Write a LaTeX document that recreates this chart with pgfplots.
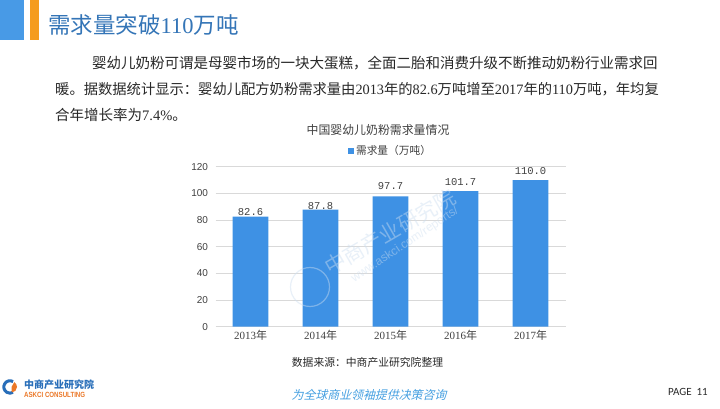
\documentclass[border=0pt]{standalone}
\usepackage{fontspec}
\usepackage{pgfplots}
\usepackage{pgfplotstable}
\pgfplotsset{compat=1.18}
\setmainfont{Liberation Serif}
\newfontfamily\cjk{Noto Sans CJK SC}
\newfontfamily\cjkit[FakeSlant=0.25]{Noto Sans CJK SC}
\newfontfamily\sansf{Liberation Sans}
\newfontfamily\monof{Liberation Mono}
\newfontfamily\carl{Carlito}
\definecolor{barblue}{RGB}{62,145,228}
\definecolor{titleblue}{RGB}{52,117,183}
\definecolor{blockblue}{RGB}{72,154,230}
\definecolor{blockorange}{RGB}{245,156,30}
\definecolor{gridgray}{RGB}{217,217,217}
\definecolor{textgray}{RGB}{64,64,64}
\definecolor{bodytext}{RGB}{40,40,40}
\definecolor{slogan}{RGB}{70,160,225}
\definecolor{logoblue}{RGB}{40,110,185}
\definecolor{logoorange}{RGB}{235,120,40}
\definecolor{wmark}{RGB}{205,222,240}

\pgfplotstableread{
x y ly lab
0 82.6 86.25 82.6
1 87.8 90.75 87.8
2 97.7 105.5 97.7
3 101.7 108.75 101.7
4 110.0 116.8 110.0
}\demand

\begin{document}
\begin{tikzpicture}
\fill[white] (0pt,0pt) rectangle (720pt,409pt);
\useasboundingbox (0pt,0pt) rectangle (720pt,409pt);
\begin{axis}[
  at={(215.5pt,82.3pt)}, anchor=south west,
  scale only axis, width=350pt, height=160pt,
  xmin=-0.5, xmax=4.5, ymin=0, ymax=120,
  ytick={0,20,...,120}, xtick={0,1,2,3,4},
  xticklabels={2013{\cjk 年},2014{\cjk 年},2015{\cjk 年},2016{\cjk 年},2017{\cjk 年}},
  axis line style={draw=none}, major tick style={draw=none},
  ymajorgrids, grid style={gridgray, line width=0.8pt},
  /pgf/number format/assume math mode=true,
  yticklabel style={font=\sansf\fontsize{10}{12}\selectfont, text=textgray, xshift=-4pt},
  xticklabel style={font=\fontsize{11}{13}\selectfont, text=textgray},
  legend style={at={(0.5,1)}, anchor=center, yshift=16pt, draw=none, fill=none,
     font=\cjk\fontsize{10.7}{12}\selectfont, text=textgray, inner sep=0pt},
  legend image code/.code={\fill[barblue] (0pt,-3pt) rectangle (6pt,3pt);},
  clip=false,
]
\addplot[ybar, bar width=35.6pt, bar shift=0pt, fill=barblue, draw=none] table[x=x,y=y]{\demand};
\addlegendentry{需求量（万吨）}
\addplot[draw=none, forget plot, nodes near coords, point meta=explicit symbolic,
  every node near coord/.append style={anchor=center, inner sep=0pt, font=\monof\fontsize{10.5}{12}\selectfont, text=textgray}]
  table[x=x,y=ly,meta=lab]{\demand};
\end{axis}
\begin{scope}[x=1pt,y=1pt]
% header decoration
\fill[blockblue] (0,369) rectangle (24,409);
\fill[blockorange] (30,369) rectangle (39,409);
\node[anchor=west, inner sep=0, text=titleblue, font=\fontsize{22.5}{25}\selectfont] at (48,384) {{\cjk 需求量突破}110{\cjk 万吨}};
% body text
\node[anchor=west, inner sep=0, text=bodytext, font=\fontsize{14.5}{17}\selectfont] at (92,346) {\cjk 婴幼儿奶粉可谓是母婴市场的一块大蛋糕，全面二胎和消费升级不断推动奶粉行业需求回};
\node[anchor=west, inner sep=0, text=bodytext, font=\fontsize{14.3}{17}\selectfont] at (55,320) {{\cjk 暖。据数据统计显示：婴幼儿配方奶粉需求量由}2013{\cjk 年的}82.6{\cjk 万吨增至}2017{\cjk 年的}110{\cjk 万吨，年均复}};
\node[anchor=west, inner sep=0, text=bodytext, font=\fontsize{14.5}{17}\selectfont] at (55,294) {{\cjk 合年增长率为}7.4\%{\cjk 。}};
% chart title
\node[inner sep=0, text=textgray, font=\cjk\fontsize{11.9}{14}\selectfont] at (378,279) {中国婴幼儿奶粉需求量情况};

% watermark (single faint copy)
\begin{scope}[opacity=0.45]
\node[rotate=30, text=wmark, font=\cjk\fontsize{21}{24}\selectfont] at (390,177) {中商产业研究院};
\node[rotate=33.7, text=wmark, font=\sansf\fontsize{12}{14}\selectfont] at (405,164) {www.askci.com/reports/};
\draw[wmark, line width=1.2pt] (310,122) circle (19.5);
\end{scope}

% source
\node[inner sep=0, text=bodytext, font=\cjk\fontsize{10.8}{13}\selectfont] at (367.5,46.3) {数据来源：中商产业研究院整理};
% footer
\node[inner sep=0, text=slogan, font=\cjkit\fontsize{11.9}{14}\selectfont] at (369,14) {为全球商业领袖提供决策咨询};
\node[anchor=west, inner sep=0, text=bodytext, font=\carl\fontsize{11}{13}\selectfont] at (668,17.3) {PAGE\ \ 11};
% logo
\draw[logoblue, line width=3pt] (13.1,27.4) arc (60:300:6.2);
\fill[logoorange] (11.5,16.5) arc (-90:60:5.5) -- (11.5,22) -- cycle;
\node[anchor=west, inner sep=0, text=logoblue, font=\cjk\bfseries\fontsize{10}{12}\selectfont] at (24,24.5) {中商产业研究院};
\node[anchor=west, inner sep=0, text=logoorange, font=\sansf\bfseries\fontsize{7.5}{9}\selectfont, xscale=0.82] at (24,14) {ASKCI CONSULTING};
\end{scope}
\end{tikzpicture}
\end{document}
